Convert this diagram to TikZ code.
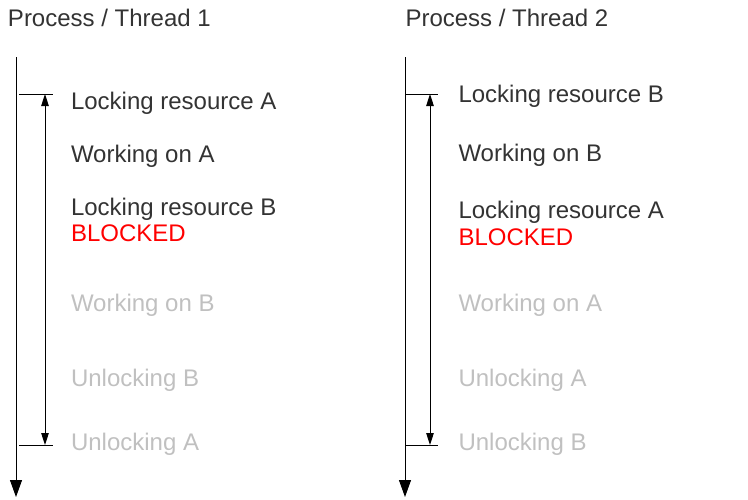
\documentclass[tikz,border=0pt]{standalone}
\usepackage{fontspec}
\setmainfont{Liberation Sans}
\usetikzlibrary{arrows.meta}
\definecolor{txt}{HTML}{333333}
\definecolor{faded}{HTML}{C0C0C0}
\definecolor{blk}{HTML}{FF0000}
\tikzset{
  lbl/.style={anchor=base west, inner sep=0pt, outer sep=0pt, text=txt, font=\fontsize{24}{28}\selectfont},
  fadedlbl/.style={lbl, text=faded},
  blocked/.style={lbl, text=blk},
  timeline/.style={line width=1pt, -{Triangle[width=12pt,length=17pt]}},
  tick/.style={line width=1pt},
  span/.style={line width=1pt, {Triangle[width=7.5pt,length=12pt]}-{Triangle[width=7.5pt,length=12pt]}}
}
\begin{document}
\begin{tikzpicture}[x=1pt,y=-1pt]
\useasboundingbox (0,0) rectangle (748,499);
% titles
\node[lbl] (t1) at (8,26) {Process / Thread 1};
\node[lbl] (t2) at (405.5,26) {Process / Thread 2};
% left column
\node[lbl] (a1) at (71,109) {Locking resource A};
\node[lbl] (a2) at (71,162) {Working on A};
\node[lbl] (a3) at (71,215) {Locking resource B};
\node[blocked] (a4) at (71,241) {BLOCKED};
\node[fadedlbl] (a5) at (71,311.5) {Working on B};
\node[fadedlbl] (a6) at (71,386.5) {Unlocking B};
\node[fadedlbl] (a7) at (71,450) {Unlocking A};
% right column
\node[lbl] (b1) at (458.5,102.5) {Locking resource B};
\node[lbl] (b2) at (458.5,161.5) {Working on B};
\node[lbl] (b3) at (458.5,218.5) {Locking resource A};
\node[blocked] (b4) at (458.5,245) {BLOCKED};
\node[fadedlbl] (b5) at (458.5,311.5) {Working on A};
\node[fadedlbl] (b6) at (458.5,386.5) {Unlocking A};
\node[fadedlbl] (b7) at (458.5,450) {Unlocking B};
% left timeline
\coordinate (L0) at (16,57);
\coordinate (L1) at (16,497);
\draw[timeline] (L0) -- (L1);
\coordinate (LtA) at (19,94);
\coordinate (LtB) at (53,94);
\coordinate (LbA) at (19,445);
\coordinate (LbB) at (53,445);
\draw[tick] (LtA) -- (LtB);
\draw[tick] (LbA) -- (LbB);
\coordinate (Lsa) at (45,94);
\coordinate (Lsb) at (45,445);
\draw[span] (Lsa) -- (Lsb);
% right timeline
\coordinate (R0) at (405,57);
\coordinate (R1) at (405,497);
\draw[timeline] (R0) -- (R1);
\coordinate (RtA) at (405,94);
\coordinate (RtB) at (438,94);
\coordinate (RbA) at (405,445);
\coordinate (RbB) at (438,445);
\draw[tick] (RtA) -- (RtB);
\draw[tick] (RbA) -- (RbB);
\coordinate (Rsa) at (430,94);
\coordinate (Rsb) at (430,445);
\draw[span] (Rsa) -- (Rsb);
\end{tikzpicture}
\end{document}
